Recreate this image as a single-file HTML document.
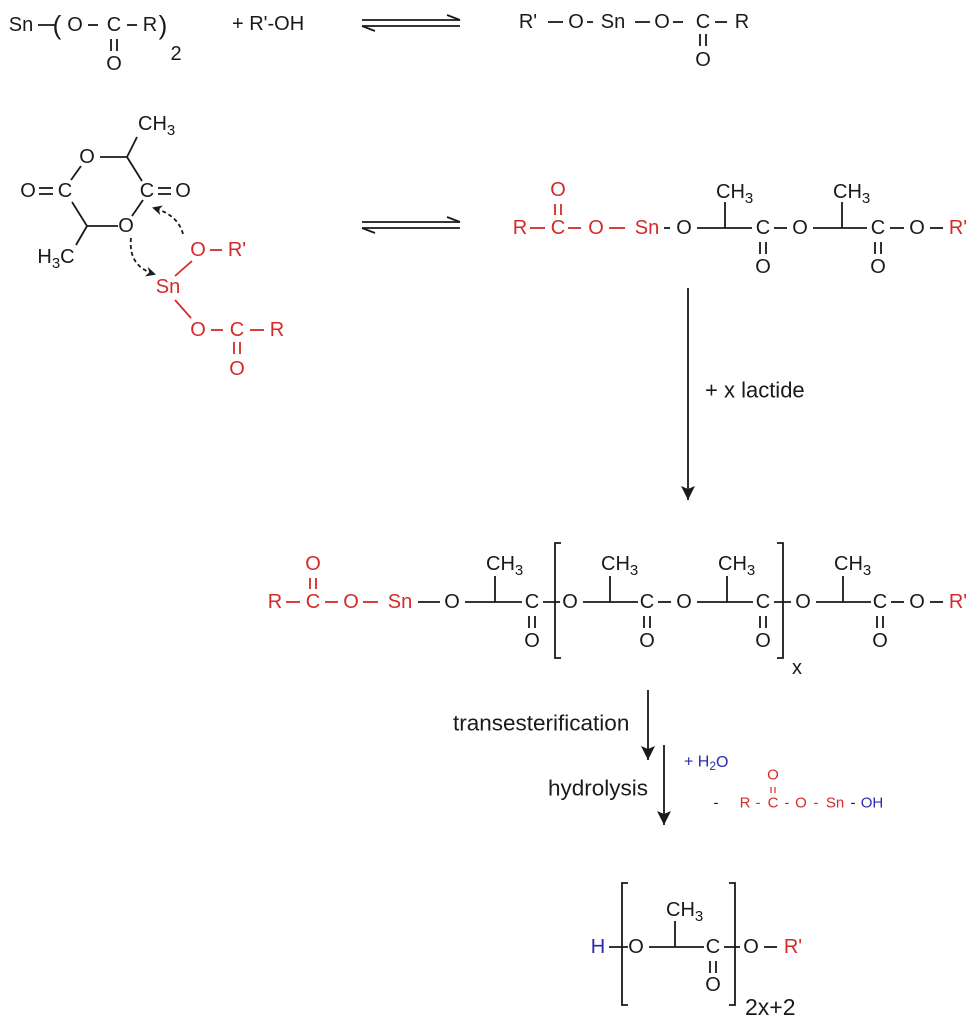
<!DOCTYPE html>
<html><head><meta charset="utf-8"><style>
html,body{margin:0;padding:0;background:#fff;}
svg{display:block;}
text{font-family:"Liberation Sans",Arial,sans-serif;font-size:20px;dominant-baseline:central;text-anchor:middle;fill:#1a1a1a;}
.r{fill:#d42a2a;}
.b{fill:#2a2ab0;}
.s{font-size:15px;}
line,path.l{stroke:#1a1a1a;stroke-width:1.8;fill:none;}
.rl{stroke:#d42a2a !important;}
.bl{stroke:#2a2ab0 !important;}
</style></head><body>
<svg width="979" height="1030" viewBox="0 0 979 1030" xmlns="http://www.w3.org/2000/svg">
<defs>
<marker id="ah" markerWidth="10" markerHeight="10" refX="8" refY="5" orient="auto" markerUnits="userSpaceOnUse"><path d="M0,0 L10,5 L0,10 L3,5 z" fill="#1a1a1a"/></marker>
<marker id="bh" markerWidth="16" markerHeight="22" refX="14" refY="7" orient="auto" markerUnits="userSpaceOnUse"><path d="M0,0 L14,7 L0,14 L3,7 z" fill="#1a1a1a"/></marker>
</defs>

<!-- Top row left -->
<text x="21" y="25">Sn</text>
<line x1="38" y1="25" x2="56" y2="25"/>
<text x="57" y="25" style="font-size:26px">(</text>
<text x="75" y="25">O</text>
<line x1="88" y1="25" x2="98" y2="25"/>
<text x="114" y="25">C</text>
<line x1="127" y1="25" x2="137" y2="25"/>
<text x="150" y="25">R</text>
<text x="163" y="25" style="font-size:26px">)</text>
<text x="176" y="54">2</text>
<line x1="111" y1="39" x2="111" y2="51"/><line x1="117" y1="39" x2="117" y2="51"/>
<text x="114" y="64">O</text>
<text x="232" y="24" style="text-anchor:start">+ R'-OH</text>

<!-- eq arrows -->
<line x1="362" y1="20" x2="460" y2="20"/><line x1="460" y1="20" x2="447" y2="15"/>
<line x1="362" y1="26" x2="460" y2="26"/><line x1="362" y1="26" x2="375" y2="31"/>
<line x1="362" y1="222" x2="460" y2="222"/><line x1="460" y1="222" x2="447" y2="217"/>
<line x1="362" y1="228" x2="460" y2="228"/><line x1="362" y1="228" x2="375" y2="233"/>

<!-- top right -->
<text x="528" y="22">R'</text>
<line x1="548" y1="22" x2="563" y2="22"/>
<text x="576" y="22">O</text>
<line x1="587" y1="22" x2="593" y2="22"/>
<text x="613" y="22">Sn</text>
<line x1="635" y1="22" x2="650" y2="22"/>
<text x="662" y="22">O</text>
<line x1="673" y1="22" x2="683" y2="22"/>
<text x="703" y="22">C</text>
<line x1="715" y1="22" x2="727" y2="22"/>
<text x="742" y="22">R</text>
<line x1="700" y1="34" x2="700" y2="46"/><line x1="706" y1="34" x2="706" y2="46"/>
<text x="703" y="60">O</text>

<!-- lactide -->
<text x="138" y="124" style="text-anchor:start">CH<tspan class="s" dy="6">3</tspan></text>
<line x1="127" y1="157" x2="137" y2="137"/>
<text x="87" y="157">O</text>
<line x1="100" y1="157" x2="127" y2="157"/>
<line x1="127" y1="157" x2="142" y2="181"/>
<text x="147" y="191">C</text>
<line x1="158" y1="188" x2="171" y2="188"/><line x1="158" y1="194" x2="171" y2="194"/>
<text x="183" y="191">O</text>
<text x="28" y="191">O</text>
<line x1="39" y1="188" x2="53" y2="188"/><line x1="39" y1="194" x2="53" y2="194"/>
<text x="65" y="191">C</text>
<line x1="71" y1="180" x2="81" y2="166"/>
<line x1="72" y1="202" x2="87" y2="226"/>
<line x1="87" y1="226" x2="118" y2="226"/>
<text x="126" y="226">O</text>
<line x1="132" y1="216" x2="143" y2="200"/>
<line x1="87" y1="226" x2="76" y2="245"/>
<text x="56" y="257">H<tspan class="s" dy="6">3</tspan><tspan dy="-6">C</tspan></text>
<!-- dashed arrows -->
<path class="l" d="M183,234 Q178,215 154,208" stroke-dasharray="4,3" marker-end="url(#ah)"/>
<path class="l" d="M131,238 Q128,266 154,274" stroke-dasharray="4,3" marker-end="url(#ah)"/>
<!-- red Sn part -->
<text class="r" x="198" y="250">O</text>
<line class="rl" x1="210" y1="250" x2="222" y2="250"/>
<text class="r" x="237" y="250">R'</text>
<line class="rl" x1="175" y1="276" x2="192" y2="261"/>
<text class="r" x="168" y="287">Sn</text>
<line class="rl" x1="175" y1="300" x2="191" y2="318"/>
<text class="r" x="198" y="330">O</text>
<line class="rl" x1="211" y1="330" x2="223" y2="330"/>
<text class="r" x="237" y="330">C</text>
<line class="rl" x1="250" y1="330" x2="264" y2="330"/>
<text class="r" x="277" y="330">R</text>
<line class="rl" x1="234" y1="342" x2="234" y2="354"/><line class="rl" x1="240" y1="342" x2="240" y2="354"/>
<text class="r" x="237" y="369">O</text>

<!-- middle chain -->
<text class="r" x="520" y="228">R</text>
<line class="rl" x1="530" y1="228" x2="545" y2="228"/>
<text class="r" x="558" y="228">C</text>
<line class="rl" x1="555" y1="204" x2="555" y2="215"/><line class="rl" x1="561" y1="204" x2="561" y2="215"/>
<text class="r" x="558" y="190">O</text>
<line class="rl" x1="568" y1="228" x2="581" y2="228"/>
<text class="r" x="596" y="228">O</text>
<line class="rl" x1="609" y1="228" x2="625" y2="228"/>
<text class="r" x="647" y="228">Sn</text>
<line x1="664" y1="228" x2="670" y2="228"/>
<text x="684" y="228">O</text>
<line x1="697" y1="228" x2="752" y2="228"/>
<line x1="725" y1="228" x2="725" y2="202"/>
<text x="716" y="192" style="text-anchor:start">CH<tspan class="s" dy="6">3</tspan></text>
<text x="763" y="228">C</text>
<line x1="760" y1="242" x2="760" y2="254"/><line x1="766" y1="242" x2="766" y2="254"/>
<text x="763" y="267">O</text>
<line x1="774" y1="228" x2="787" y2="228"/>
<text x="800" y="228">O</text>
<line x1="813" y1="228" x2="867" y2="228"/>
<line x1="842" y1="228" x2="842" y2="202"/>
<text x="833" y="192" style="text-anchor:start">CH<tspan class="s" dy="6">3</tspan></text>
<text x="878" y="228">C</text>
<line x1="875" y1="242" x2="875" y2="254"/><line x1="881" y1="242" x2="881" y2="254"/>
<text x="878" y="267">O</text>
<line x1="890" y1="228" x2="904" y2="228"/>
<text x="917" y="228">O</text>
<line x1="930" y1="228" x2="943" y2="228"/>
<text class="r" x="958" y="228">R'</text>

<!-- big arrow -->
<line x1="688" y1="288" x2="688" y2="500" marker-end="url(#bh)"/>
<text x="705" y="390" style="text-anchor:start;font-size:22px">+ x lactide</text>

<!-- bottom chain -->
<text class="r" x="275" y="602">R</text>
<line class="rl" x1="286" y1="602" x2="300" y2="602"/>
<text class="r" x="313" y="602">C</text>
<line class="rl" x1="310" y1="578" x2="310" y2="589"/><line class="rl" x1="316" y1="578" x2="316" y2="589"/>
<text class="r" x="313" y="564">O</text>
<line class="rl" x1="325" y1="602" x2="338" y2="602"/>
<text class="r" x="351" y="602">O</text>
<line class="rl" x1="363" y1="602" x2="378" y2="602"/>
<text class="r" x="400" y="602">Sn</text>
<line x1="418" y1="602" x2="440" y2="602"/>
<text x="452" y="602">O</text>
<line x1="465" y1="602" x2="522" y2="602"/>
<line x1="495" y1="602" x2="495" y2="576"/>
<text x="486" y="564" style="text-anchor:start">CH<tspan class="s" dy="6">3</tspan></text>
<text x="532" y="602">C</text>
<line x1="529" y1="616" x2="529" y2="628"/><line x1="535" y1="616" x2="535" y2="628"/>
<text x="532" y="641">O</text>
<line x1="543" y1="602" x2="560" y2="602"/>
<path class="l" d="M561,543 L555,543 L555,658 L561,658"/>
<text x="570" y="602">O</text>
<line x1="583" y1="602" x2="638" y2="602"/>
<line x1="610" y1="602" x2="610" y2="576"/>
<text x="601" y="564" style="text-anchor:start">CH<tspan class="s" dy="6">3</tspan></text>
<text x="647" y="602">C</text>
<line x1="644" y1="616" x2="644" y2="628"/><line x1="650" y1="616" x2="650" y2="628"/>
<text x="647" y="641">O</text>
<line x1="658" y1="602" x2="671" y2="602"/>
<text x="684" y="602">O</text>
<line x1="697" y1="602" x2="753" y2="602"/>
<line x1="727" y1="602" x2="727" y2="576"/>
<text x="718" y="564" style="text-anchor:start">CH<tspan class="s" dy="6">3</tspan></text>
<text x="763" y="602">C</text>
<line x1="760" y1="616" x2="760" y2="628"/><line x1="766" y1="616" x2="766" y2="628"/>
<text x="763" y="641">O</text>
<line x1="774" y1="602" x2="791" y2="602"/>
<path class="l" d="M777,543 L783,543 L783,658 L777,658"/>
<text x="797" y="668">x</text>
<text x="803" y="602">O</text>
<line x1="816" y1="602" x2="871" y2="602"/>
<line x1="843" y1="602" x2="843" y2="576"/>
<text x="834" y="564" style="text-anchor:start">CH<tspan class="s" dy="6">3</tspan></text>
<text x="880" y="602">C</text>
<line x1="877" y1="616" x2="877" y2="628"/><line x1="883" y1="616" x2="883" y2="628"/>
<text x="880" y="641">O</text>
<line x1="891" y1="602" x2="904" y2="602"/>
<text x="917" y="602">O</text>
<line x1="930" y1="602" x2="943" y2="602"/>
<text class="r" x="958" y="602">R'</text>

<!-- transesterification / hydrolysis -->
<text x="453" y="723" style="text-anchor:start;font-size:22.5px">transesterification</text>
<line x1="648" y1="690" x2="648" y2="760" marker-end="url(#bh)"/>
<line x1="664" y1="745" x2="664" y2="825" marker-end="url(#bh)"/>
<text x="548" y="788" style="text-anchor:start;font-size:22.5px">hydrolysis</text>
<text class="b" x="684" y="762" style="text-anchor:start;font-size:16px">+ H<tspan dy="4" style="font-size:12px">2</tspan><tspan dy="-4">O</tspan></text>
<text x="716" y="803" style="font-size:15px">-</text>
<text class="r" x="745" y="803" style="font-size:15px">R</text>
<text class="r" x="758" y="803" style="font-size:15px">-</text>
<text class="r" x="773" y="803" style="font-size:15px">C</text>
<line class="rl" x1="771" y1="787" x2="771" y2="793" style="stroke-width:1.2"/><line class="rl" x1="775" y1="787" x2="775" y2="793" style="stroke-width:1.2"/>
<text class="r" x="773" y="775" style="font-size:15px">O</text>
<text class="r" x="787" y="803" style="font-size:15px">-</text>
<text class="r" x="801" y="803" style="font-size:15px">O</text>
<text class="r" x="816" y="803" style="font-size:15px">-</text>
<text class="r" x="835" y="803" style="font-size:15px">Sn</text>
<text x="853" y="803" style="font-size:15px">-</text>
<text class="b" x="872" y="803" style="font-size:15px">OH</text>

<!-- product -->
<text class="b" x="598" y="947">H</text>
<line x1="609" y1="947" x2="628" y2="947"/>
<path class="l" d="M628,883 L622,883 L622,1005 L628,1005"/>
<text x="636" y="947">O</text>
<line x1="649" y1="947" x2="704" y2="947"/>
<line x1="675" y1="947" x2="675" y2="921"/>
<text x="666" y="910" style="text-anchor:start">CH<tspan class="s" dy="6">3</tspan></text>
<text x="713" y="947">C</text>
<line x1="710" y1="961" x2="710" y2="973"/><line x1="716" y1="961" x2="716" y2="973"/>
<text x="713" y="985">O</text>
<line x1="724" y1="947" x2="740" y2="947"/>
<path class="l" d="M729,883 L735,883 L735,1005 L729,1005"/>
<text x="745" y="1007" style="font-size:23px;text-anchor:start">2x+2</text>
<text x="751" y="947">O</text>
<line x1="764" y1="947" x2="777" y2="947"/>
<text class="r" x="793" y="947">R'</text>
</svg>
</body></html>
